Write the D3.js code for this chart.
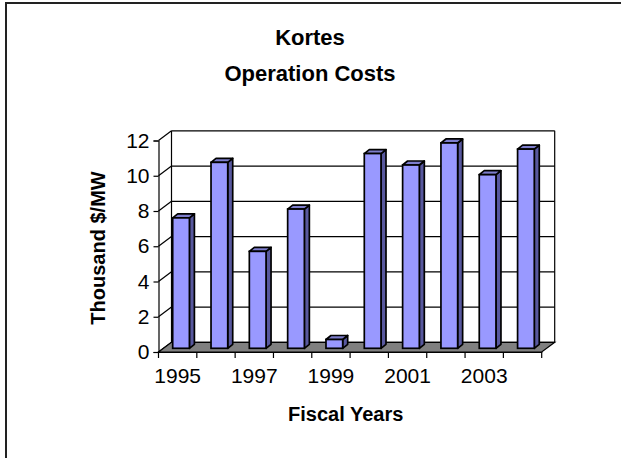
<!DOCTYPE html>
<html>
<head>
<meta charset="utf-8">
<script src="https://cdn.jsdelivr.net/npm/d3@7"></script>
<style>
  html, body { margin: 0; padding: 0; background: #fff; }
  svg { display: block; font-family: "Liberation Sans", Arial, sans-serif; }
</style>
</head>
<body>
<svg id="chart" width="621" height="458"></svg>
<script>
// ---- data ----
const years = ["1995","1996","1997","1998","1999","2000","2001","2002","2003","2004"];
const values = [7.4, 10.55, 5.5, 7.9, 0.5, 11.05, 10.4, 11.65, 9.85, 11.3];
const yTicks = [0, 2, 4, 6, 8, 10, 12];
const xTickLabels = ["1995", "1997", "1999", "2001", "2003"];
const titleLines = ["Kortes", "Operation Costs"];
const yTitle = "Thousand $/MW";
const xTitle = "Fiscal Years";

// ---- layout ----
const svg = d3.select("#chart");
const x = d3.scaleBand().domain(years).range([158.5, 541.7]);
const y = d3.scaleLinear().domain([0, 12]).range([352, 140.5]);
const DX = 13, DY = -9.7;           // wall depth
const BDX = 5, BDY = -4;            // bar depth
const BSX = 14.2, BSY = -3.7;       // bar plane offset
const BW = 16.7;
const FONT = "'Liberation Sans', Arial, sans-serif";

const x0 = x.range()[0], x1 = x.range()[1];

// outer frame
svg.append("rect").attr("x", 6).attr("y", 3).attr("width", 800).attr("height", 800)
  .attr("fill", "none").attr("stroke", "#222").attr("stroke-width", 2);

// back wall
svg.append("rect").attr("x", x0 + DX).attr("y", y(12) + DY)
  .attr("width", x1 - x0).attr("height", y(0) - y(12))
  .attr("fill", "#fff").attr("stroke", "none");

// back wall gridlines
svg.append("g").selectAll("line").data(yTicks).join("line")
  .attr("x1", x0 + DX).attr("x2", x1 + DX)
  .attr("y1", d => y(d) + DY).attr("y2", d => y(d) + DY)
  .attr("stroke", "#000").attr("stroke-width", 1.2);

// side wall diagonals
svg.append("g").selectAll("line").data(yTicks).join("line")
  .attr("x1", x0).attr("x2", x0 + DX)
  .attr("y1", d => y(d)).attr("y2", d => y(d) + DY)
  .attr("stroke", "#000").attr("stroke-width", 1.2);

// wall edges
svg.append("line").attr("x1", x0 + DX).attr("x2", x0 + DX)
  .attr("y1", y(12) + DY).attr("y2", y(0) + DY).attr("stroke", "#000").attr("stroke-width", 1.2);
svg.append("line").attr("x1", x1 + DX).attr("x2", x1 + DX)
  .attr("y1", y(12) + DY).attr("y2", y(0) + DY).attr("stroke", "#000").attr("stroke-width", 1.2);

// floor
svg.append("polygon")
  .attr("points", [[x0, y(0)], [x1, y(0)], [x1 + DX, y(0) + DY], [x0 + DX, y(0) + DY]].map(p => p.join(",")).join(" "))
  .attr("fill", "#808080").attr("stroke", "#000").attr("stroke-width", 1.2);

// y axis
const yAxis = d3.axisLeft(y).tickValues(yTicks).tickSize(5).tickPadding(4).tickFormat(d3.format("d"));
const gy = svg.append("g").attr("transform", `translate(${x0},0)`).call(yAxis);
gy.select(".domain").attr("stroke", "#000").attr("stroke-width", 1.2);
gy.selectAll(".tick line").attr("stroke", "#000").attr("stroke-width", 1.2);
gy.selectAll(".tick text").attr("font-size", 21).attr("fill", "#000").attr("font-family", FONT);

// x axis
const xAxis = d3.axisBottom(x).tickSize(0).tickPadding(0).tickFormat(d => xTickLabels.includes(d) ? d : "");
const gx = svg.append("g").attr("transform", `translate(0,${y(0)})`).call(xAxis);
gx.select(".domain").attr("stroke", "#000").attr("stroke-width", 1.2);
gx.selectAll(".tick text").attr("font-size", 21).attr("fill", "#000").attr("dy", null).attr("y", 30.5)
  .attr("font-family", FONT);
// band-boundary tick marks
const bounds = years.map(d => x(d)).concat([x1]);
svg.append("g").selectAll("line").data(bounds).join("line")
  .attr("x1", d => d).attr("x2", d => d)
  .attr("y1", y(0)).attr("y2", y(0) + 6)
  .attr("stroke", "#000").attr("stroke-width", 1.2);

// bars
const bars = svg.append("g").selectAll("g").data(years.map((yr, i) => ({yr, v: values[i]}))).join("g");
bars.each(function(d) {
  const g = d3.select(this);
  const fx = x(d.yr) + BSX;
  const ftop = y(d.v) + BSY;
  const fbot = y(0) + BSY;
  // side
  g.append("polygon")
    .attr("points", [[fx + BW, fbot], [fx + BW, ftop], [fx + BW + BDX, ftop + BDY], [fx + BW + BDX, fbot + BDY]].map(p => p.join(",")).join(" "))
    .attr("fill", "#58589e").attr("stroke", "#000").attr("stroke-width", 1.7).attr("stroke-linejoin", "round");
  // top
  g.append("polygon")
    .attr("points", [[fx, ftop], [fx + BW, ftop], [fx + BW + BDX, ftop + BDY], [fx + BDX, ftop + BDY]].map(p => p.join(",")).join(" "))
    .attr("fill", "#7d7dcc").attr("stroke", "#000").attr("stroke-width", 1.7).attr("stroke-linejoin", "round");
  // front
  g.append("rect").attr("x", fx).attr("y", ftop).attr("width", BW).attr("height", fbot - ftop)
    .attr("fill", "#9999ff").attr("stroke", "#000").attr("stroke-width", 1.7);
});

// titles
const title = svg.append("text").attr("text-anchor", "middle").attr("font-weight", "bold")
  .attr("font-size", 22).attr("fill", "#000").attr("font-family", FONT);
titleLines.forEach((t, i) => {
  title.append("tspan").attr("x", 310).attr("y", 45 + i * 36).text(t);
});

svg.append("text").attr("transform", "translate(105,248) rotate(-90)")
  .attr("text-anchor", "middle").attr("font-weight", "bold").attr("font-size", 20)
  .attr("fill", "#000").attr("font-family", FONT).text(yTitle);

svg.append("text").attr("x", 345.7).attr("y", 421)
  .attr("text-anchor", "middle").attr("font-weight", "bold").attr("font-size", 20)
  .attr("fill", "#000").attr("font-family", FONT).text(xTitle);
</script>
</body>
</html>
